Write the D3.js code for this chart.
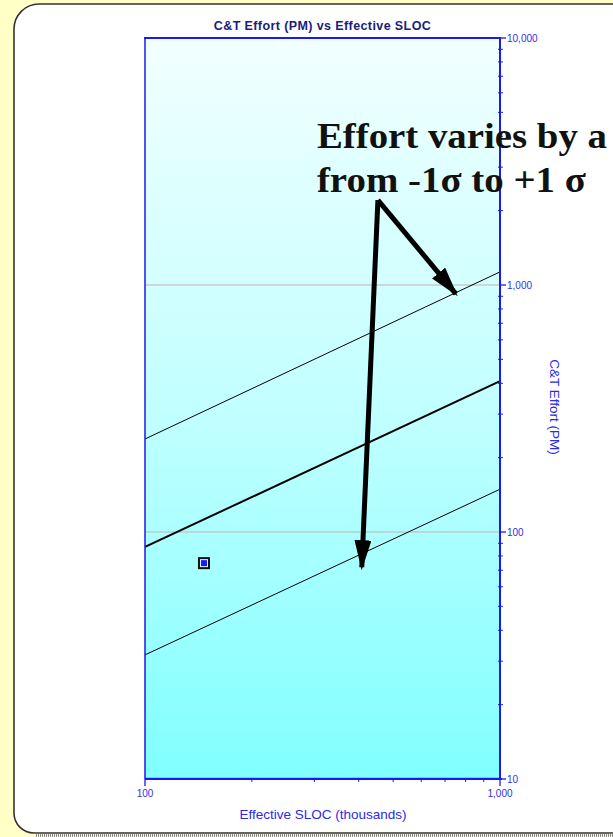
<!DOCTYPE html>
<html>
<head>
<meta charset="utf-8">
<script src="https://cdn.jsdelivr.net/npm/d3@7"></script>
<style>
  html, body { margin: 0; padding: 0; background: #ffffc6; overflow: hidden; }
  svg { display: block; }
</style>
</head>
<body>
<svg id="chart" width="613" height="837"></svg>
<script>
// Effort (person-months) versus effective SLOC (thousands), log-log
const xDomain = [100, 1000];
const yDomain = [10, 10000];
const xTickLabels = ["100", "1,000"];
const yTickLabels = ["10", "100", "1,000", "10,000"];

// Trend line and the -1 sigma / +1 sigma bands, given at the ends of the x range
const trendSloc = [100, 1000];
const trendMean = [87, 408];
const trendPlus1 = [238, 1130];
const trendMinus1 = [31.8, 149];

// Single project point
const pointSloc = [146.6];
const pointEffort = [74.8];

// Annotation arrows: shared start, and the two tips (data coordinates)
const arrowStart = [453, 2208];
const arrowTips = [[751, 921], [408, 72]];
const noteLines = ["Effort varies by a", "from -1σ to +1 σ"];
const noteWidths = [290, 269];
const noteAnchor = [305, 3590];

const W = 613, H = 837;
const plot = { left: 145, right: 500, top: 38, bottom: 779 };

const svg = d3.select("#chart");
const defs = svg.append("defs");

const grad = defs.append("linearGradient")
  .attr("id", "bgGrad").attr("x1", 0).attr("y1", 0).attr("x2", 0).attr("y2", 1);
grad.append("stop").attr("offset", "0%").attr("stop-color", "#f2ffff");
grad.append("stop").attr("offset", "50%").attr("stop-color", "#c2ffff");
grad.append("stop").attr("offset", "100%").attr("stop-color", "#80ffff");

defs.append("marker")
  .attr("id", "arrowHead")
  .attr("viewBox", "0 0 10 10")
  .attr("preserveAspectRatio", "none")
  .attr("refX", 9).attr("refY", 5)
  .attr("markerUnits", "userSpaceOnUse")
  .attr("markerWidth", 30).attr("markerHeight", 17)
  .attr("orient", "auto")
  .append("path")
  .attr("d", "M0,0 L10,5 L0,10 Z")
  .attr("fill", "#000");

// Panel with rounded left corners
svg.append("path")
  .attr("d", `M ${W + 20} 4 L 39 4 A 25 25 0 0 0 14 29 L 14 813 A 20 20 0 0 0 34 833 L ${W + 20} 833`)
  .attr("fill", "#ffffff")
  .attr("stroke", "#333333")
  .attr("stroke-width", 1.6);
svg.append("line")
  .attr("x1", 36).attr("x2", W).attr("y1", 835.5).attr("y2", 835.5)
  .attr("stroke", "#777").attr("stroke-width", 2.5)
  .attr("stroke-dasharray", "1,1");

const x = d3.scaleLog().domain(xDomain).range([plot.left, plot.right]);
const y = d3.scaleLog().domain(yDomain).range([plot.bottom, plot.top]);

// Plot background
svg.append("rect")
  .attr("x", plot.left).attr("y", plot.top)
  .attr("width", plot.right - plot.left).attr("height", plot.bottom - plot.top)
  .attr("fill", "url(#bgGrad)");

// Horizontal grid lines at the decades
svg.append("g")
  .selectAll("line")
  .data([10, 100, 1000])
  .join("line")
  .attr("x1", plot.left).attr("x2", plot.right)
  .attr("y1", d => y(d) - (d === 10 ? 1.5 : 0)).attr("y2", d => y(d) - (d === 10 ? 1.5 : 0))
  .attr("stroke", "#c8b0b0").attr("stroke-width", 1);

// Trend and sigma lines
const lineGen = d3.line().x(d => x(d[0])).y(d => y(d[1]));
const series = [
  { vals: trendPlus1, w: 1 },
  { vals: trendMean, w: 2 },
  { vals: trendMinus1, w: 1 }
];
svg.append("g")
  .selectAll("path")
  .data(series)
  .join("path")
  .attr("d", s => lineGen(trendSloc.map((sx, i) => [sx, s.vals[i]])))
  .attr("fill", "none")
  .attr("stroke", "#000")
  .attr("stroke-width", s => s.w);

// Project point: black square, light ring, blue centre
const pts = pointSloc.map((sx, i) => [sx, pointEffort[i]]);
const pg = svg.append("g").selectAll("g").data(pts).join("g")
  .attr("transform", d => `translate(${x(d[0])},${y(d[1])})`);
pg.append("rect").attr("x", -6).attr("y", -6).attr("width", 12).attr("height", 12).attr("fill", "#111");
pg.append("rect").attr("x", -4).attr("y", -4).attr("width", 8).attr("height", 8).attr("fill", "#e0ffff");
pg.append("rect").attr("x", -3).attr("y", -3).attr("width", 6).attr("height", 6).attr("fill", "#1a1aff");

// Frame lines
const blue = "#1a1aee";
svg.append("line").attr("x1", plot.left - 1).attr("x2", plot.right + 1)
  .attr("y1", plot.top).attr("y2", plot.top).attr("stroke", blue).attr("stroke-width", 2);
svg.append("line").attr("x1", plot.left).attr("x2", plot.left)
  .attr("y1", plot.top).attr("y2", plot.bottom).attr("stroke", blue).attr("stroke-width", 1.5);

// X axis (bottom)
const xMinor = d3.range(2, 10).map(k => k * 100);
const xAxisG = svg.append("g");
xAxisG.append("line").attr("x1", plot.left).attr("x2", plot.right + 2)
  .attr("y1", plot.bottom).attr("y2", plot.bottom).attr("stroke", blue).attr("stroke-width", 2);
xAxisG.selectAll("line.minor").data(xMinor).join("line").attr("class", "minor")
  .attr("x1", d => x(d)).attr("x2", d => x(d))
  .attr("y1", plot.bottom - 1).attr("y2", plot.bottom + 3)
  .attr("stroke", blue).attr("stroke-width", 1);
xAxisG.selectAll("line.major").data(xDomain).join("line").attr("class", "major")
  .attr("x1", d => x(d)).attr("x2", d => x(d))
  .attr("y1", plot.bottom).attr("y2", plot.bottom + 7)
  .attr("stroke", blue).attr("stroke-width", 1.3);
xAxisG.selectAll("text").data(xDomain).join("text")
  .attr("x", d => x(d)).attr("y", plot.bottom + 18)
  .attr("text-anchor", "middle")
  .attr("font-family", "Liberation Sans, Arial, sans-serif")
  .attr("font-size", 10).attr("fill", "#3030ee")
  .text((d, i) => xTickLabels[i]);

// Y axis (right)
const yMinor = [];
[10, 100, 1000].forEach(dec => d3.range(2, 10).forEach(k => yMinor.push(dec * k)));
const yAxisG = svg.append("g");
yAxisG.append("line").attr("x1", plot.right).attr("x2", plot.right)
  .attr("y1", plot.top - 1).attr("y2", plot.bottom + 1).attr("stroke", blue).attr("stroke-width", 2);
yAxisG.selectAll("line.minor").data(yMinor).join("line").attr("class", "minor")
  .attr("x1", plot.right - 2).attr("x2", plot.right + 3)
  .attr("y1", d => y(d)).attr("y2", d => y(d))
  .attr("stroke", blue).attr("stroke-width", 1);
const yMajor = [10, 100, 1000, 10000];
yAxisG.selectAll("line.major").data(yMajor).join("line").attr("class", "major")
  .attr("x1", plot.right).attr("x2", plot.right + 6)
  .attr("y1", d => y(d)).attr("y2", d => y(d))
  .attr("stroke", blue).attr("stroke-width", 1.3);
yAxisG.selectAll("text").data(yMajor).join("text")
  .attr("x", plot.right + 7).attr("y", d => y(d) + 4)
  .attr("font-family", "Liberation Sans, Arial, sans-serif")
  .attr("font-size", 10).attr("fill", "#3030ee")
  .text((d, i) => yTickLabels[i]);

// Titles
svg.append("text")
  .attr("x", 322.5).attr("y", 30)
  .attr("text-anchor", "middle")
  .attr("font-family", "Liberation Sans, Arial, sans-serif")
  .attr("font-weight", "bold").attr("font-size", 12.5)
  .attr("letter-spacing", 0.4)
  .attr("fill", "#1c1c7c")
  .text("C&T Effort (PM) vs Effective SLOC");

svg.append("text")
  .attr("x", 323).attr("y", 819)
  .attr("text-anchor", "middle")
  .attr("font-family", "Liberation Sans, Arial, sans-serif")
  .attr("font-size", 13.5).attr("fill", "#2a2aee")
  .text("Effective SLOC (thousands)");

svg.append("text")
  .attr("transform", `translate(550, 407) rotate(90)`)
  .attr("text-anchor", "middle")
  .attr("font-family", "Liberation Sans, Arial, sans-serif")
  .attr("font-size", 13.5).attr("fill", "#2a2aee")
  .text("C&T Effort (PM)");

// Annotation arrows
svg.append("g")
  .selectAll("line")
  .data(arrowTips)
  .join("line")
  .attr("x1", x(arrowStart[0])).attr("y1", y(arrowStart[1]))
  .attr("x2", d => x(d[0])).attr("y2", d => y(d[1]))
  .attr("stroke", "#000").attr("stroke-width", 5)
  .attr("marker-end", "url(#arrowHead)");

// Annotation text
svg.append("g")
  .selectAll("text")
  .data(noteLines)
  .join("text")
  .attr("x", x(noteAnchor[0]))
  .attr("y", (d, i) => y(noteAnchor[1]) + i * 44)
  .attr("font-family", "Liberation Serif, 'Times New Roman', serif")
  .attr("font-weight", "bold").attr("font-size", 36)
  .attr("textLength", (d, i) => noteWidths[i])
  .attr("lengthAdjust", "spacingAndGlyphs")
  .attr("fill", "#111")
  .text(d => d);
</script>
</body>
</html>
